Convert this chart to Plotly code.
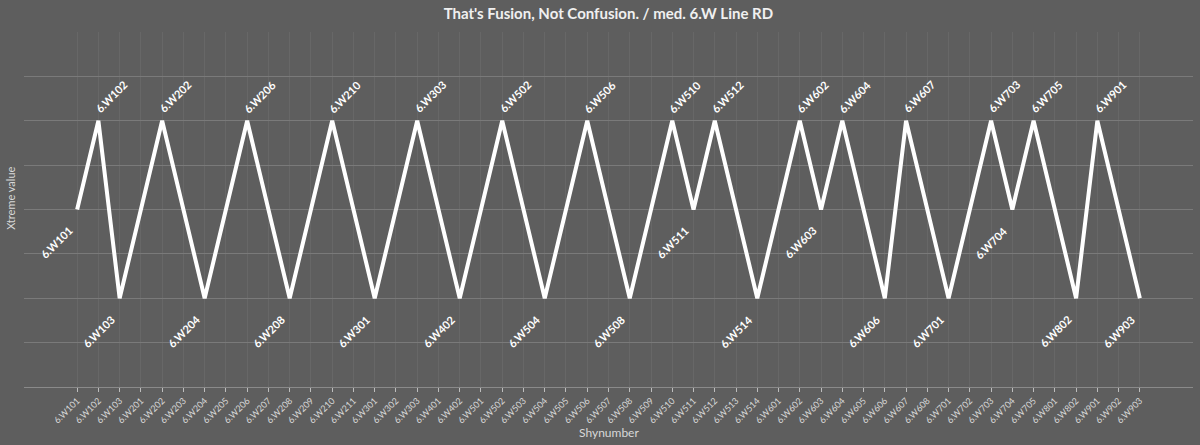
import plotly.graph_objects as go

# categories on the x axis (every Shynumber, including the ones without a value)
shynumbers = [
    "6.W101", "6.W102", "6.W103",
    "6.W201", "6.W202", "6.W203", "6.W204", "6.W205", "6.W206", "6.W207",
    "6.W208", "6.W209", "6.W210", "6.W211",
    "6.W301", "6.W302", "6.W303",
    "6.W401", "6.W402",
    "6.W501", "6.W502", "6.W503", "6.W504", "6.W505", "6.W506", "6.W507",
    "6.W508", "6.W509", "6.W510", "6.W511", "6.W512", "6.W513", "6.W514",
    "6.W601", "6.W602", "6.W603", "6.W604", "6.W605", "6.W606", "6.W607", "6.W608",
    "6.W701", "6.W702", "6.W703", "6.W704", "6.W705",
    "6.W801", "6.W802",
    "6.W901", "6.W902", "6.W903",
]

# points that carry an Xtreme value (1 = high, 0 = middle, -1 = low)
point_names = [
    "6.W101", "6.W102", "6.W103", "6.W202", "6.W204", "6.W206", "6.W208",
    "6.W210", "6.W301", "6.W303", "6.W402", "6.W502", "6.W504", "6.W506",
    "6.W508", "6.W510", "6.W511", "6.W512", "6.W514", "6.W602", "6.W603",
    "6.W604", "6.W606", "6.W607", "6.W701", "6.W703", "6.W704", "6.W705",
    "6.W802", "6.W901", "6.W903",
]
point_values = [
    0, 1, -1, 1, -1, 1, -1,
    1, -1, 1, -1, 1, -1, 1,
    -1, 1, 0, 1, -1, 1, 0,
    1, -1, 1, -1, 1, 0, 1,
    -1, 1, -1,
]

FONT = "Lato"
BG = "#5e5e5e"

fig = go.Figure()
fig.add_trace(go.Scatter(
    x=point_names,
    y=point_values,
    mode="lines",
    line=dict(color="white", width=4),
    hoverinfo="x+y",
))

# rotated point labels
for name, val in zip(point_names, point_values):
    if val > 0:
        xs, ys = 13, 24
    else:
        xs, ys = -21, -33
    fig.add_annotation(
        x=name, y=val, xref="x", yref="y",
        text="<b>" + name + "</b>", showarrow=False, textangle=-45,
        xshift=xs, yshift=ys,
        font=dict(family=FONT, size=11, color="white"),
    )

# axis titles
fig.add_annotation(
    text="Xtreme value", xref="paper", yref="paper", x=0, y=0.53,
    xanchor="center", yanchor="middle",
    xshift=-13, textangle=-90, showarrow=False,
    font=dict(family=FONT, size=11, color="#d8d8d8"),
)
fig.add_annotation(
    text="Shynumber", xref="paper", yref="paper", x=0.5, y=0,
    xanchor="center", yanchor="middle",
    yshift=-45, showarrow=False,
    font=dict(family=FONT, size=12, color="#d8d8d8"),
)

fig.update_layout(
    width=1200, height=445,
    paper_bgcolor=BG, plot_bgcolor=BG,
    margin=dict(l=24, r=7, t=32, b=58),
    showlegend=False,
    title=dict(
        text="<b>That's Fusion, Not Confusion. / med. 6.W Line RD</b>",
        x=0.507, xanchor="center", y=0.97, yanchor="middle",
        font=dict(family=FONT, size=15, color="#f0f0f0"),
    ),
    font=dict(family=FONT, color="#d8d8d8"),
)
fig.update_xaxes(
    type="category",
    categoryorder="array", categoryarray=shynumbers,
    tickmode="array", tickvals=shynumbers, ticktext=shynumbers,
    range=[-2.5, len(shynumbers) + 1.5],
    tickangle=-45,
    tickfont=dict(family=FONT, size=9, color="#d8d8d8"),
    showgrid=True, gridcolor="#676767", gridwidth=1,
    showline=True, linecolor="#8a8a8a", linewidth=1,
    ticks="outside", ticklen=4, tickcolor="#bdbdbd",
    zeroline=False,
)
fig.update_yaxes(
    range=[-2, 2], dtick=0.5, tick0=0,
    showticklabels=False,
    showgrid=True, gridcolor="#7a7a7a", gridwidth=1,
    zeroline=False, showline=False,
)

fig.write_html(
    "out.html",
    config={"displayModeBar": False},
    post_script="document.body.style.margin='0';document.body.style.background='" + BG + "';",
)
